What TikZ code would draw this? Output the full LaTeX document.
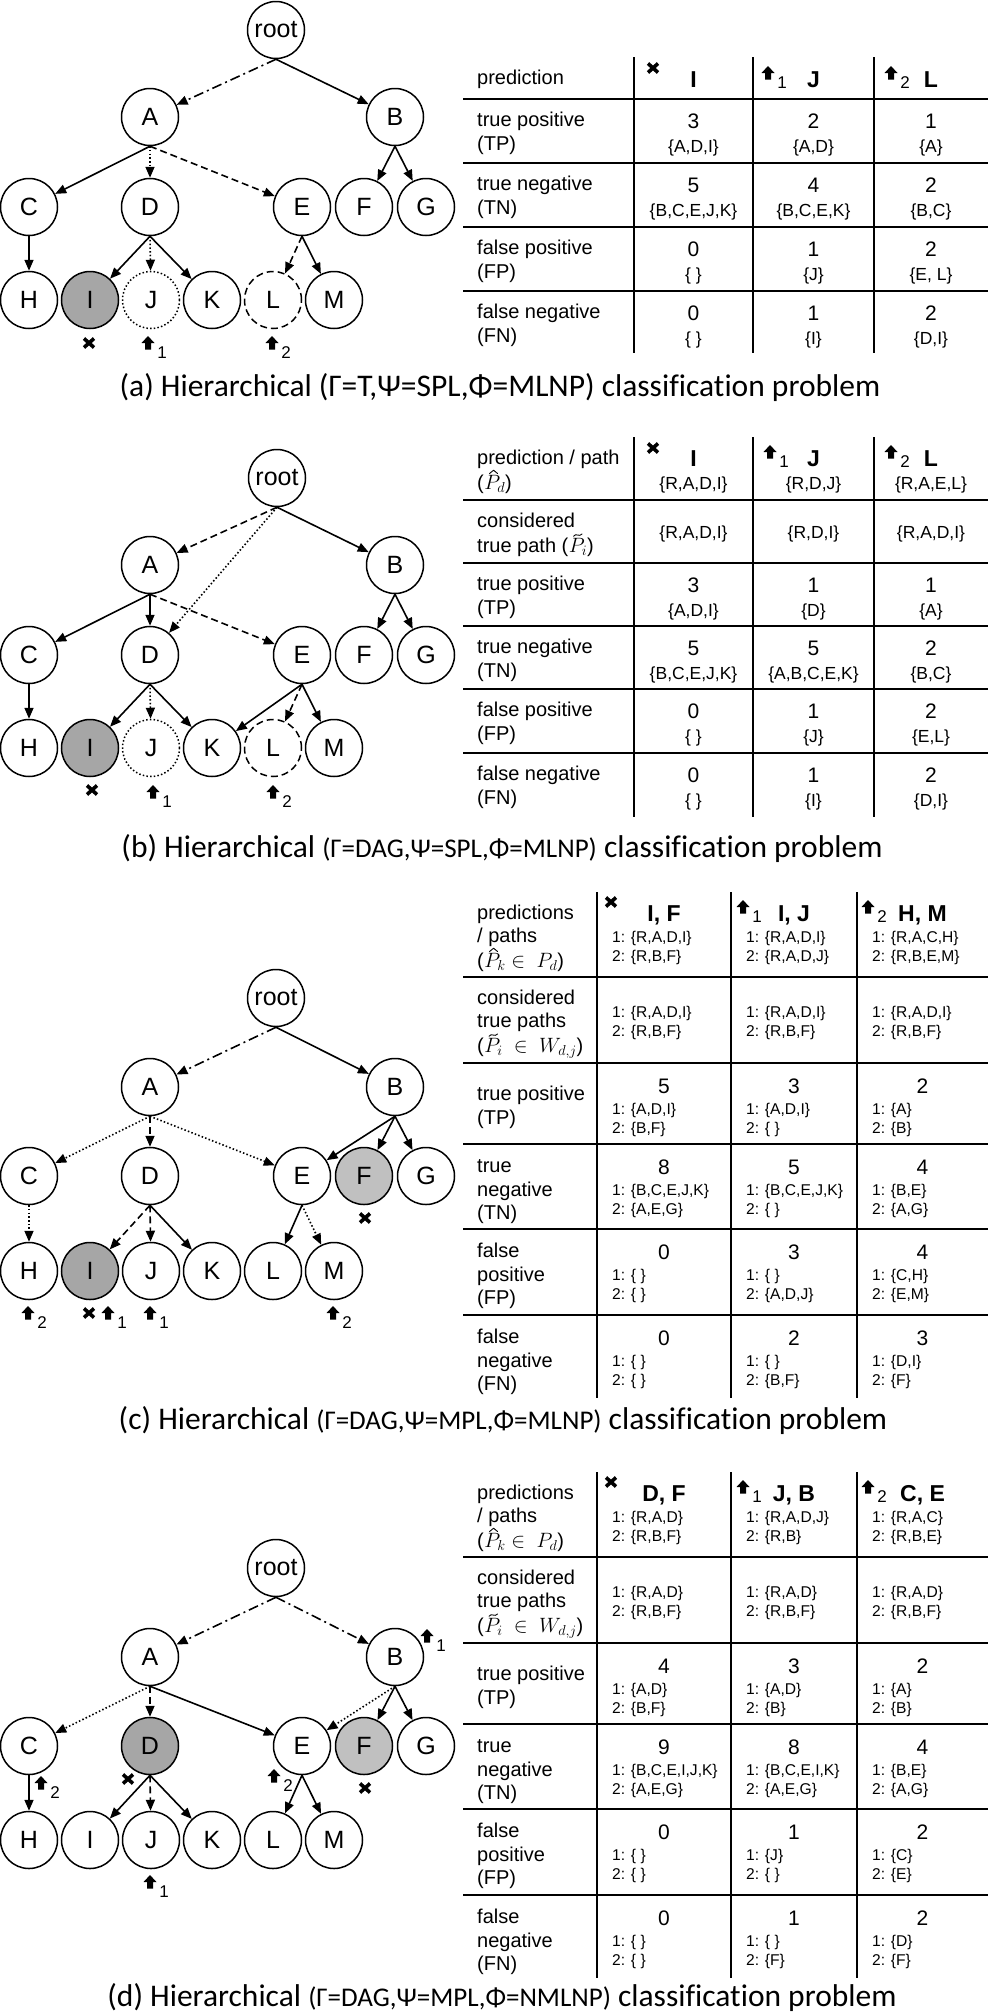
\documentclass[tikz,border=0pt]{standalone}
\usepackage{fontspec}
\setmainfont{Liberation Sans}
\newfontfamily\capfont[Ligatures=NoCommon]{Carlito}
\usetikzlibrary{arrows.meta}
\definecolor{gA}{RGB}{166,166,166}
\definecolor{gB}{RGB}{192,192,192}
\tikzset{
 tn/.style={circle,draw,line width=1.5pt,minimum size=57pt,inner sep=0pt,font=\fontsize{25}{30}\selectfont},
 dotc/.style={dash pattern=on 1.5pt off 2.2pt},
 dashc/.style={dash pattern=on 7pt off 4pt},
 ed/.style={line width=1.6pt,-{Triangle[length=11pt,width=9pt]}},
 dd/.style={dash pattern=on 10pt off 4pt on 2pt off 4pt},
 ds/.style={dash pattern=on 7pt off 4pt},
 dt/.style={dash pattern=on 1.5pt off 2.2pt},
 tl/.style={line width=1.8pt},
 labtxt/.style={anchor=base west,inner sep=0pt,font=\fontsize{20}{24}\selectfont,yshift=-7pt},
 chn/.style={anchor=base west,inner sep=0pt,font=\fontsize{20}{24}\selectfont},
 acc/.style={line width=0.9pt,line cap=round,line join=round},
 numtxt/.style={anchor=base,inner sep=0pt,font=\fontsize{21}{25}\selectfont,yshift=-7.5pt},
 settxt/.style={anchor=base,inner sep=0pt,font=\fontsize{17.5}{21}\selectfont,yshift=-6.2pt},
 smtxt/.style={anchor=base west,inner sep=0pt,font=\fontsize{15.6}{19}\selectfont,yshift=-5.5pt},
 boldtxt/.style={anchor=base,inner sep=0pt,font=\bfseries\fontsize{23}{27}\selectfont,yshift=-8.2pt},
 subtxt/.style={anchor=base,inner sep=0pt,font=\fontsize{17}{20}\selectfont,yshift=-6pt},
 captxt/.style={inner sep=0pt,font=\capfont\fontsize{31.5}{36}\selectfont},
 upm/.pic={\fill (0,-7) -- (6.5,0) -- (3,0) -- (3,6.5) -- (-3,6.5) -- (-3,0) -- (-6.5,0) -- cycle;},
 xmk/.pic={\draw[line width=3.6pt] (-5,-4.5) -- (5,4.5) (-5,4.5) -- (5,-4.5);},
}
\newcommand{\mkTN}[5][]{\node[tn,#1] (#2) at (#3,#4) {#5};}
\newcommand{\mkUP}[4]{\pic at (#1,#2) {upm}; \node[subtxt] (#4) at (#1+14,#2+9) {#3};}
\newcommand{\mkX}[2]{\pic at (#1,#2) {xmk};}
\newcommand{\mkABc}[5]{\node[numtxt] (#1n) at (#2,#3+22) {#4}; \node[settxt] (#1s) at (#2,#3+47) {#5};}
\newcommand{\mkABl}[4]{\node[labtxt] (#1a) at (477,#2+20) {#3}; \node[labtxt] (#1b) at (477,#2+44) {#4};}
\newcommand{\mkCDc}[7]{\node[numtxt] (#1n) at (#3,#4+23) {#5};
 \node[smtxt] (#1a) at (#2+15,#4+46) {1: #6};
 \node[smtxt] (#1b) at (#2+15,#4+65) {2: #7};}
\newcommand{\mkCDl}[5]{\node[labtxt] (#1a) at (477,#2+21) {#3}; \node[labtxt] (#1b) at (477,#2+45) {#4}; \node[labtxt] (#1c) at (477,#2+68) {#5};}
\newcommand{\mkCDh}[6]{\node[boldtxt] (#1b) at (#3,913) {#4};
 \node[smtxt] (#1a) at (#2+15,937) {1: #5};
 \node[smtxt] (#1c) at (#2+15,956) {2: #6};}
\newcommand{\mkCDk}[4]{\node[smtxt] (#1a) at (#2+15,1012) {1: #3};
 \node[smtxt] (#1b) at (#2+15,1031) {2: #4};}
% label with an accented P: text before, then math starting with P
\newcommand{\mkAccLab}[5]{\node[labtxt] (#1a) at (#2,#3) {#4};
 \node[chn] (#1b) at (#1a.base east) {#5};}
\newcommand{\drawHat}[1]{\draw[acc] ([xshift=5.5pt,yshift=15.5pt]#1.base west) -- ([xshift=9.5pt,yshift=18.8pt]#1.base west) -- ([xshift=13.5pt,yshift=15.5pt]#1.base west);}
\newcommand{\drawTil}[1]{\draw[acc] ([xshift=5pt,yshift=15.8pt]#1.base west) .. controls ([xshift=7.5pt,yshift=19.5pt]#1.base west) and ([xshift=10.5pt,yshift=14.5pt]#1.base west) .. ([xshift=13.5pt,yshift=18pt]#1.base west);}
\begin{document}
\begin{tikzpicture}[x=1pt,y=-1pt]
\useasboundingbox (0,0) rectangle (991,2016);
\fill[white] (0,0) rectangle (991,2016);

%%%%%%%%%%%%%%%% (a) tree
\mkTN{aR}{276}{30}{root}
\mkTN{aA}{150}{117}{A}
\mkTN{aB}{395}{117}{B}
\mkTN{aC}{29}{207}{C}
\mkTN{aD}{150}{207}{D}
\mkTN{aE}{302}{207}{E}
\mkTN{aF}{364}{207}{F}
\mkTN{aG}{426}{207}{G}
\mkTN{aH}{29}{300}{H}
\mkTN[fill=gA]{aI}{90}{300}{I}
\mkTN[dotc]{aJ}{151}{300}{J}
\mkTN{aK}{212}{300}{K}
\mkTN[dashc]{aL}{273}{300}{L}
\mkTN{aM}{334}{300}{M}
\draw[ed,dd] (aR.south) -- (aA);
\draw[ed] (aR.south) -- (aB);
\draw[ed] (aA.south) -- (aC);
\draw[ed,dt] (aA.south) -- (aD);
\draw[ed,ds] (aA.south) -- (aE);
\draw[ed] (aB.south) -- (aF);
\draw[ed] (aB.south) -- (aG);
\draw[ed] (aC.south) -- (aH);
\draw[ed] (aD.south) -- (aI);
\draw[ed,dt] (aD.south) -- (aJ);
\draw[ed] (aD.south) -- (aK);
\draw[ed,ds] (aE.south) -- (aL);
\draw[ed] (aE.south) -- (aM);
\mkX{89}{343}
\mkUP{148}{343}{1}{aS1}
\mkUP{272}{343}{2}{aS2}

%%%%%%%%%%%%%%%% (a) table
\foreach \yy in {99,163,227,291} \draw[tl] (463,\yy) -- (988,\yy);
\foreach \xx in {634,753,874} \draw[tl] (\xx,57) -- (\xx,353);
\node[labtxt] (tah) at (477,77) {prediction};
\mkX{653}{68}
\node[boldtxt] (tab1) at (693.5,79) {I};
\mkUP{768}{73}{1}{tau1}
\node[boldtxt] (tab2) at (813.5,79) {J};
\mkUP{891}{73}{2}{tau2}
\node[boldtxt] (tab3) at (931,79) {L};
\mkABl{ta1}{99}{true positive}{(TP)}
\mkABc{ta11}{693.5}{99}{3}{\{A,D,I\}}
\mkABc{ta12}{813.5}{99}{2}{\{A,D\}}
\mkABc{ta13}{931}{99}{1}{\{A\}}
\mkABl{ta2}{163}{true negative}{(TN)}
\mkABc{ta21}{693.5}{163}{5}{\{B,C,E,J,K\}}
\mkABc{ta22}{813.5}{163}{4}{\{B,C,E,K\}}
\mkABc{ta23}{931}{163}{2}{\{B,C\}}
\mkABl{ta3}{227}{false positive}{(FP)}
\mkABc{ta31}{693.5}{227}{0}{\{ \}}
\mkABc{ta32}{813.5}{227}{1}{\{J\}}
\mkABc{ta33}{931}{227}{2}{\{E, L\}}
\mkABl{ta4}{291}{false negative}{(FN)}
\mkABc{ta41}{693.5}{291}{0}{\{ \}}
\mkABc{ta42}{813.5}{291}{1}{\{I\}}
\mkABc{ta43}{931}{291}{2}{\{D,I\}}
\node[captxt] (capa) at (500,388) {(a) Hierarchical (Γ=T,Ψ=SPL,Φ=MLNP) classification problem};

%%%%%%%%%%%%%%%% (b) tree
\mkTN{bR}{277}{478}{root}
\mkTN{bA}{150}{565}{A}
\mkTN{bB}{395}{565}{B}
\mkTN{bC}{29}{655}{C}
\mkTN{bD}{150}{655}{D}
\mkTN{bE}{302}{655}{E}
\mkTN{bF}{364}{655}{F}
\mkTN{bG}{426}{655}{G}
\mkTN{bH}{29}{748}{H}
\mkTN[fill=gA]{bI}{90}{748}{I}
\mkTN[dotc]{bJ}{151}{748}{J}
\mkTN{bK}{212}{748}{K}
\mkTN[dashc]{bL}{273}{748}{L}
\mkTN{bM}{334}{748}{M}
\draw[ed,ds] (bR.south) -- (bA);
\draw[ed,dt] (bR.south) -- (bD);
\draw[ed] (bR.south) -- (bB);
\draw[ed] (bA.south) -- (bC);
\draw[ed] (bA.south) -- (bD);
\draw[ed,ds] (bA.south) -- (bE);
\draw[ed] (bB.south) -- (bF);
\draw[ed] (bB.south) -- (bG);
\draw[ed] (bC.south) -- (bH);
\draw[ed] (bD.south) -- (bI);
\draw[ed,dt] (bD.south) -- (bJ);
\draw[ed] (bD.south) -- (bK);
\draw[ed] (bE.south) -- (bK);
\draw[ed,ds] (bE.south) -- (bL);
\draw[ed] (bE.south) -- (bM);
\mkX{92}{790}
\mkUP{153}{792}{1}{bS1}
\mkUP{273}{792}{2}{bS2}

%%%%%%%%%%%%%%%% (b) table
\foreach \yy in {500,563,626,689,753} \draw[tl] (463,\yy) -- (988,\yy);
\foreach \xx in {634,753,874} \draw[tl] (\xx,437) -- (\xx,817);
\node[labtxt] (tbh1) at (477,457) {prediction / path};
\mkAccLab{tbh2}{477}{482}{(}{$P_d$)}
\drawHat{tbh2b}
\mkX{653}{448}
\node[boldtxt] (tbb1) at (693.5,458) {I};
\node[settxt] (tbp1) at (693.5,483) {\{R,A,D,I\}};
\mkUP{770}{452}{1}{tbu1}
\node[boldtxt] (tbb2) at (813.5,458) {J};
\node[settxt] (tbp2) at (813.5,483) {\{R,D,J\}};
\mkUP{891}{452}{2}{tbu2}
\node[boldtxt] (tbb3) at (931,458) {L};
\node[settxt] (tbp3) at (931,483) {\{R,A,E,L\}};
\node[labtxt] (tbk1) at (477,520) {considered};
\mkAccLab{tbk2}{477}{545}{true path (}{$P_i$)}
\drawTil{tbk2b}
\node[settxt] (tbk3) at (693.5,532) {\{R,A,D,I\}};
\node[settxt] (tbk4) at (813.5,532) {\{R,D,I\}};
\node[settxt] (tbk5) at (931,532) {\{R,A,D,I\}};
\mkABl{tb1}{563}{true positive}{(TP)}
\mkABc{tb11}{693.5}{563}{3}{\{A,D,I\}}
\mkABc{tb12}{813.5}{563}{1}{\{D\}}
\mkABc{tb13}{931}{563}{1}{\{A\}}
\mkABl{tb2}{626}{true negative}{(TN)}
\mkABc{tb21}{693.5}{626}{5}{\{B,C,E,J,K\}}
\mkABc{tb22}{813.5}{626}{5}{\{A,B,C,E,K\}}
\mkABc{tb23}{931}{626}{2}{\{B,C\}}
\mkABl{tb3}{689}{false positive}{(FP)}
\mkABc{tb31}{693.5}{689}{0}{\{ \}}
\mkABc{tb32}{813.5}{689}{1}{\{J\}}
\mkABc{tb33}{931}{689}{2}{\{E,L\}}
\mkABl{tb4}{753}{false negative}{(FN)}
\mkABc{tb41}{693.5}{753}{0}{\{ \}}
\mkABc{tb42}{813.5}{753}{1}{\{I\}}
\mkABc{tb43}{931}{753}{2}{\{D,I\}}
\node[captxt] (capb) at (502,849) {(b) Hierarchical {\fontsize{27}{30}\selectfont(Γ=DAG,Ψ=SPL,Φ=MLNP)} classification problem};

%%%%%%%%%%%%%%%% (c) tree
\mkTN{cR}{276}{998}{root}
\mkTN{cA}{150}{1087}{A}
\mkTN{cB}{395}{1087}{B}
\mkTN{cC}{29}{1176}{C}
\mkTN{cD}{150}{1176}{D}
\mkTN{cE}{302}{1176}{E}
\mkTN[fill=gB]{cF}{364}{1176}{F}
\mkTN{cG}{426}{1176}{G}
\mkTN{cH}{29}{1271}{H}
\mkTN[fill=gA]{cI}{90}{1271}{I}
\mkTN{cJ}{151}{1271}{J}
\mkTN{cK}{212}{1271}{K}
\mkTN{cL}{273}{1271}{L}
\mkTN{cM}{334}{1271}{M}
\draw[ed,dd] (cR.south) -- (cA);
\draw[ed] (cR.south) -- (cB);
\draw[ed,dt] (cA.south) -- (cC);
\draw[ed,ds] (cA.south) -- (cD);
\draw[ed,dt] (cA.south) -- (cE);
\draw[ed] (cB.south) -- (cE);
\draw[ed] (cB.south) -- (cF);
\draw[ed] (cB.south) -- (cG);
\draw[ed,dt] (cC.south) -- (cH);
\draw[ed,ds] (cD.south) -- (cI);
\draw[ed,ds] (cD.south) -- (cJ);
\draw[ed] (cD.south) -- (cK);
\draw[ed] (cE.south) -- (cL);
\draw[ed,dt] (cE.south) -- (cM);
\mkX{365}{1218}
\mkUP{28}{1313}{2}{cS1}
\mkX{89}{1313}
\mkUP{108}{1313}{1}{cS2}
\mkUP{150}{1313}{1}{cS3}
\mkUP{333}{1313}{2}{cS4}

%%%%%%%%%%%%%%%% (c) table
\foreach \yy in {977,1063,1144,1229,1315} \draw[tl] (463,\yy) -- (988,\yy);
\foreach \xx in {597,731,857} \draw[tl] (\xx,892) -- (\xx,1398);
\node[labtxt] (tch1) at (477,912) {predictions};
\node[labtxt] (tch2) at (477,935) {/ paths};
\mkAccLab{tch3}{477}{960}{(}{$P_k \in\ P_d$)}
\drawHat{tch3b}
\mkX{611}{902}
\mkCDh{tch11}{597}{664}{I, F}{\{R,A,D,I\}}{\{R,B,F\}}
\mkUP{743}{907}{1}{tcu1}
\mkCDh{tch12}{731}{794}{I, J}{\{R,A,D,I\}}{\{R,A,D,J\}}
\mkUP{868}{907}{2}{tcu2}
\mkCDh{tch13}{857}{922.5}{H, M}{\{R,A,C,H\}}{\{R,B,E,M\}}
\node[labtxt] (tck1) at (477,997) {considered};
\node[labtxt] (tck2) at (477,1020) {true paths};
\mkAccLab{tck3}{477}{1045}{(}{$P_i\ \in\ W_{d,j}$)}
\drawTil{tck3b}
\mkCDk{tck11}{597}{\{R,A,D,I\}}{\{R,B,F\}}
\mkCDk{tck12}{731}{\{R,A,D,I\}}{\{R,B,F\}}
\mkCDk{tck13}{857}{\{R,A,D,I\}}{\{R,B,F\}}
\node[labtxt] (tct1) at (477,1093) {true positive};
\node[labtxt] (tct2) at (477,1117) {(TP)};
\mkCDc{tc11}{597}{664}{1063}{5}{\{A,D,I\}}{\{B,F\}}
\mkCDc{tc12}{731}{794}{1063}{3}{\{A,D,I\}}{\{ \}}
\mkCDc{tc13}{857}{922.5}{1063}{2}{\{A\}}{\{B\}}
\mkCDl{tcn}{1144}{true}{negative}{(TN)}
\mkCDc{tc21}{597}{664}{1144}{8}{\{B,C,E,J,K\}}{\{A,E,G\}}
\mkCDc{tc22}{731}{794}{1144}{5}{\{B,C,E,J,K\}}{\{ \}}
\mkCDc{tc23}{857}{922.5}{1144}{4}{\{B,E\}}{\{A,G\}}
\mkCDl{tcfp}{1229}{false}{positive}{(FP)}
\mkCDc{tc31}{597}{664}{1229}{0}{\{ \}}{\{ \}}
\mkCDc{tc32}{731}{794}{1229}{3}{\{ \}}{\{A,D,J\}}
\mkCDc{tc33}{857}{922.5}{1229}{4}{\{C,H\}}{\{E,M\}}
\mkCDl{tcfn}{1315}{false}{negative}{(FN)}
\mkCDc{tc41}{597}{664}{1315}{0}{\{ \}}{\{ \}}
\mkCDc{tc42}{731}{794}{1315}{2}{\{ \}}{\{B,F\}}
\mkCDc{tc43}{857}{922.5}{1315}{3}{\{D,I\}}{\{F\}}
\node[captxt] (capc) at (503,1420) {(c) Hierarchical {\fontsize{27}{30}\selectfont(Γ=DAG,Ψ=MPL,Φ=MLNP)} classification problem};

%%%%%%%%%%%%%%%% (d) tree
\mkTN{dR}{276}{1568}{root}
\mkTN{dA}{150}{1657}{A}
\mkTN{dB}{395}{1657}{B}
\mkTN{dC}{29}{1746}{C}
\mkTN[fill=gA]{dD}{150}{1746}{D}
\mkTN{dE}{302}{1746}{E}
\mkTN[fill=gB]{dF}{364}{1746}{F}
\mkTN{dG}{426}{1746}{G}
\mkTN{dH}{29}{1840}{H}
\mkTN{dI}{90}{1840}{I}
\mkTN{dJ}{151}{1840}{J}
\mkTN{dK}{212}{1840}{K}
\mkTN{dL}{273}{1840}{L}
\mkTN{dM}{334}{1840}{M}
\draw[ed,dd] (dR.south) -- (dA);
\draw[ed,dd] (dR.south) -- (dB);
\draw[ed,dt] (dA.south) -- (dC);
\draw[ed,ds] (dA.south) -- (dD);
\draw[ed] (dA.south) -- (dE);
\draw[ed,dt] (dB.south) -- (dE);
\draw[ed] (dB.south) -- (dF);
\draw[ed] (dB.south) -- (dG);
\draw[ed] (dC.south) -- (dH);
\draw[ed] (dD.south) -- (dI);
\draw[ed,ds] (dD.south) -- (dJ);
\draw[ed] (dD.south) -- (dK);
\draw[ed] (dE.south) -- (dL);
\draw[ed] (dE.south) -- (dM);
\mkUP{427}{1636}{1}{dS1}
\mkUP{41}{1783}{2}{dS2}
\mkX{128}{1779}
\mkUP{274}{1776}{2}{dS3}
\mkX{365}{1788}
\mkUP{150}{1882}{1}{dS4}

%%%%%%%%%%%%%%%% (d) table (same layout as (c), shifted 580 down)
\begin{scope}[yshift=-580pt]
\foreach \yy in {977,1063,1144,1229,1315} \draw[tl] (463,\yy) -- (988,\yy);
\foreach \xx in {597,731,857} \draw[tl] (\xx,892) -- (\xx,1398);
\node[labtxt] (tdh1) at (477,912) {predictions};
\node[labtxt] (tdh2) at (477,935) {/ paths};
\mkAccLab{tdh3}{477}{960}{(}{$P_k \in\ P_d$)}
\drawHat{tdh3b}
\mkX{611}{902}
\mkCDh{tdh11}{597}{664}{D, F}{\{R,A,D\}}{\{R,B,F\}}
\mkUP{743}{907}{1}{tdu1}
\mkCDh{tdh12}{731}{794}{J, B}{\{R,A,D,J\}}{\{R,B\}}
\mkUP{868}{907}{2}{tdu2}
\mkCDh{tdh13}{857}{922.5}{C, E}{\{R,A,C\}}{\{R,B,E\}}
\node[labtxt] (tdk1) at (477,997) {considered};
\node[labtxt] (tdk2) at (477,1020) {true paths};
\mkAccLab{tdk3}{477}{1045}{(}{$P_i\ \in\ W_{d,j}$)}
\drawTil{tdk3b}
\mkCDk{tdk11}{597}{\{R,A,D\}}{\{R,B,F\}}
\mkCDk{tdk12}{731}{\{R,A,D\}}{\{R,B,F\}}
\mkCDk{tdk13}{857}{\{R,A,D\}}{\{R,B,F\}}
\node[labtxt] (tdt1) at (477,1093) {true positive};
\node[labtxt] (tdt2) at (477,1117) {(TP)};
\mkCDc{td11}{597}{664}{1063}{4}{\{A,D\}}{\{B,F\}}
\mkCDc{td12}{731}{794}{1063}{3}{\{A,D\}}{\{B\}}
\mkCDc{td13}{857}{922.5}{1063}{2}{\{A\}}{\{B\}}
\mkCDl{tdn}{1144}{true}{negative}{(TN)}
\mkCDc{td21}{597}{664}{1144}{9}{\{B,C,E,I,J,K\}}{\{A,E,G\}}
\mkCDc{td22}{731}{794}{1144}{8}{\{B,C,E,I,K\}}{\{A,E,G\}}
\mkCDc{td23}{857}{922.5}{1144}{4}{\{B,E\}}{\{A,G\}}
\mkCDl{tdfp}{1229}{false}{positive}{(FP)}
\mkCDc{td31}{597}{664}{1229}{0}{\{ \}}{\{ \}}
\mkCDc{td32}{731}{794}{1229}{1}{\{J\}}{\{ \}}
\mkCDc{td33}{857}{922.5}{1229}{2}{\{C\}}{\{E\}}
\mkCDl{tdfn}{1315}{false}{negative}{(FN)}
\mkCDc{td41}{597}{664}{1315}{0}{\{ \}}{\{ \}}
\mkCDc{td42}{731}{794}{1315}{1}{\{ \}}{\{F\}}
\mkCDc{td43}{857}{922.5}{1315}{2}{\{D\}}{\{F\}}
\end{scope}
\node[captxt] (capd) at (502,1997) {(d) Hierarchical {\fontsize{27}{30}\selectfont(Γ=DAG,Ψ=MPL,Φ=NMLNP)} classification problem};
\end{tikzpicture}
\end{document}
